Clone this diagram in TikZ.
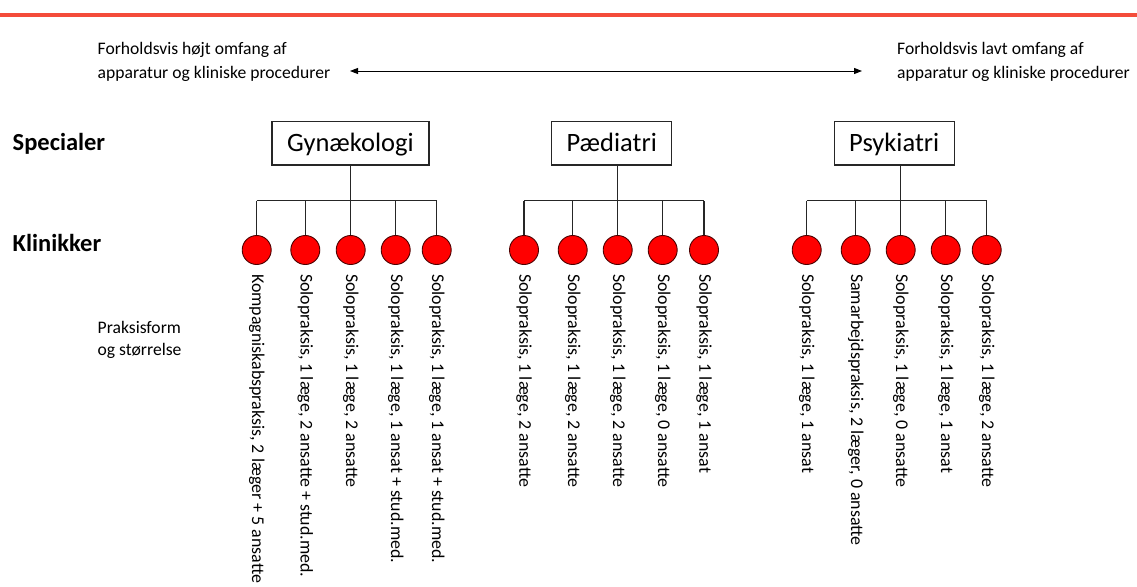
\documentclass[tikz,border=0pt]{standalone}
\usepackage{fontspec}
\setmainfont{Carlito}
\usetikzlibrary{arrows.meta}
\definecolor{topred}{RGB}{244,76,58}
\definecolor{dotred}{RGB}{255,0,0}
\begin{document}
\begin{tikzpicture}[x=1pt,y=-1pt,
  spec/.style={draw=black!85, line width=1.2pt, minimum height=43.3pt, inner sep=0pt, text height=17pt, text depth=0pt, font=\fontsize{26.5}{30}\selectfont},
  klinik/.style={circle, draw=black!70!red, fill=dotred, line width=0.9pt, minimum size=29pt, inner sep=0pt},
  conn/.style={line width=1.2pt, draw=black!85},
  lbl/.style={rotate=-90, anchor=west, inner sep=0pt, font=\fontsize{17.9}{20}\selectfont},
  small/.style={inner sep=0pt, align=left, font=\fontsize{17.6}{24}\selectfont},
  heading/.style={inner sep=0pt, anchor=base west, font=\fontsize{24.5}{28}\selectfont\bfseries}]
\useasboundingbox (0,0) rectangle (1137,586);
\fill[topred] (0,13.4) rectangle (1137,16.8);

% top texts and arrow
\node[small, anchor=base west] (lefttxt) at (97.5,78) {Forholdsvis højt omfang af\\apparatur og kliniske procedurer};
\node[small, anchor=base west] (righttxt) at (897,78) {Forholdsvis lavt omfang af\\apparatur og kliniske procedurer};
\coordinate (al) at (350,71);
\coordinate (ar) at (862,71);
\draw[line width=1pt, {Triangle[length=8pt,width=6pt]}-{Triangle[length=8pt,width=6pt]}] (al) -- (ar);

% row headings
\node[heading] (specialer) at (12.5,150) {Specialer};
\node[heading] (klinikker) at (12.5,251.5) {Klinikker};
\node[small, anchor=base west, font=\fontsize{17.6}{22}\selectfont] (praksis) at (97.5,355) {Praksisform\\og størrelse};

% specialties
\node[spec, minimum width=157pt] (gyn) at (350.4,143.4) {Gynækologi};
\node[spec, minimum width=120pt] (paed) at (611.7,143.4) {Pædiatri};
\node[spec, minimum width=120pt] (psyk) at (894.2,143.4) {Psykiatri};

\coordinate (hg) at (350.7,200.7);
\coordinate (hp) at (617.7,200.7);
\coordinate (hs) at (900.7,200.7);

% clinics Gynaekologi
\node[klinik] (g1) at (256.7,250) {};
\node[klinik] (g2) at (305.3,250) {};
\node[klinik] (g3) at (350.7,250) {};
\node[klinik] (g4) at (395.7,250) {};
\node[klinik] (g5) at (436.7,250) {};
% clinics Paediatri
\node[klinik] (p1) at (524,250) {};
\node[klinik] (p2) at (572.7,250) {};
\node[klinik] (p3) at (617.7,250) {};
\node[klinik] (p4) at (662.7,250) {};
\node[klinik] (p5) at (704,250) {};
% clinics Psykiatri
\node[klinik] (s1) at (806.7,250) {};
\node[klinik] (s2) at (855.7,250) {};
\node[klinik] (s3) at (900.7,250) {};
\node[klinik] (s4) at (945.7,250) {};
\node[klinik] (s5) at (986.7,250) {};

% connectors
\draw[conn] (gyn.south -| hg) -- (hg);
\draw[conn] (paed.south -| hp) -- (hp);
\draw[conn] (psyk.south -| hs) -- (hs);
\draw[conn] (g1.north |- hg) -- (g5.north |- hg);
\draw[conn] (p1.north |- hp) -- (p5.north |- hp);
\draw[conn] (s1.north |- hs) -- (s5.north |- hs);
\foreach \c/\h in {g1/hg,g2/hg,g3/hg,g4/hg,g5/hg,p1/hp,p2/hp,p3/hp,p4/hp,p5/hp,s1/hs,s2/hs,s3/hs,s4/hs,s5/hs}
  \draw[conn] (\c.north) -- (\c.north |- \h);

% labels
\node[lbl] (lg1) at (256.7,274) {Kompagniskabspraksis, 2 læger + 5 ansatte};
\node[lbl] (lg2) at (305.3,274) {Solopraksis, 1 læge, 2 ansatte + stud.med.};
\node[lbl] (lg3) at (350.7,274) {Solopraksis, 1 læge, 2 ansatte};
\node[lbl] (lg4) at (395.7,274) {Solopraksis, 1 læge, 1 ansat + stud.med.};
\node[lbl] (lg5) at (436.7,274) {Solopraksis, 1 læge, 1 ansat + stud.med.};
\node[lbl] (lp1) at (524,274) {Solopraksis, 1 læge, 2 ansatte};
\node[lbl] (lp2) at (572.7,274) {Solopraksis, 1 læge, 2 ansatte};
\node[lbl] (lp3) at (617.7,274) {Solopraksis, 1 læge, 2 ansatte};
\node[lbl] (lp4) at (662.7,274) {Solopraksis, 1 læge, 0 ansatte};
\node[lbl] (lp5) at (704,274) {Solopraksis, 1 læge, 1 ansat};
\node[lbl] (ls1) at (806.7,274) {Solopraksis, 1 læge, 1 ansat};
\node[lbl] (ls2) at (855.7,274) {Samarbejdspraksis, 2 læger, 0 ansatte};
\node[lbl] (ls3) at (900.7,274) {Solopraksis, 1 læge, 0 ansatte};
\node[lbl] (ls4) at (945.7,274) {Solopraksis, 1 læge, 1 ansat};
\node[lbl] (ls5) at (986.7,274) {Solopraksis, 1 læge, 2 ansatte};
\end{tikzpicture}
\end{document}
